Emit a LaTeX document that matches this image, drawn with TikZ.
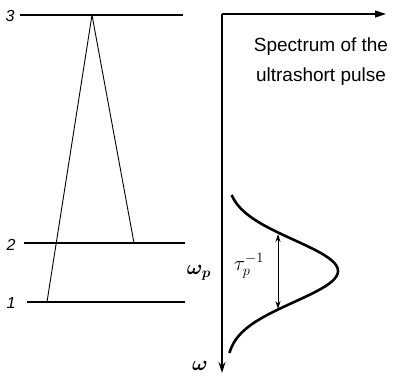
\documentclass[tikz,border=0pt]{standalone}
\usepackage{fontspec}
\usepackage{amsmath,bm}
\setsansfont{Liberation Sans}
\usetikzlibrary{arrows.meta}
\begin{document}
\begin{tikzpicture}[x=1pt,y=-1pt,
  level/.style={line width=2.6pt},
  trans/.style={line width=0.9pt},
  axis/.style={line width=1.3pt},
  lbl/.style={font=\sffamily\itshape\fontsize{16}{16}\selectfont, inner sep=0pt},
  big/.style={font=\sffamily\fontsize{19}{30}\selectfont, align=center, inner sep=0pt},
  mlbl/.style={font=\huge, inner sep=0pt}]
\useasboundingbox (0,0) rectangle (401,378);
% levels
\coordinate (l3a) at (20,15);  \coordinate (l3b) at (183,15);
\coordinate (l2a) at (24,243); \coordinate (l2b) at (185,243);
\coordinate (l1a) at (27,302); \coordinate (l1b) at (185,302);
\draw[level] (l3a) -- (l3b);
\draw[level] (l2a) -- (l2b);
\draw[level] (l1a) -- (l1b);
\node[lbl] (n3) at (10,16) {3};
\node[lbl] (n2) at (11,245) {2};
\node[lbl] (n1) at (11,303) {1};
% transitions
\coordinate (top) at (92,15);
\coordinate (bot1) at (47,302);
\coordinate (bot2) at (134,243);
\draw[trans] (top) -- (bot1);
\draw[trans] (top) -- (bot2);
% axes
\coordinate (o) at (222,14);
\coordinate (xe) at (386,14);
\coordinate (ye) at (222,373);
\draw[axis,-{Triangle[length=11pt,width=7pt]}] (o) -- (xe);
\draw[axis,-{Stealth[length=11pt,width=7pt]}] (o) -- (ye);
\node[big] (spec) at (321,62) {Spectrum of the\\ultrashort pulse};
% spectrum
\draw[line width=2.6pt] plot[domain=195:353, samples=80, variable=\t] ({226+112*exp(-(\t-271)*(\t-271)/1932)}, \t);
\coordinate (ua) at (278,234);
\coordinate (la) at (278,309);
\draw[line width=0.9pt,{Stealth[length=8pt,width=5pt]}-{Stealth[length=8pt,width=5pt]}] (ua) -- (la);
\node[mlbl] (tau) at (249,266) {$\tau_p^{-1}$};
\node[mlbl] (wp) at (199,273) {$\bm{\omega}_{\bm{p}}$};
\node[mlbl] (w) at (200,366) {$\bm{\omega}$};
\end{tikzpicture}
\end{document}
